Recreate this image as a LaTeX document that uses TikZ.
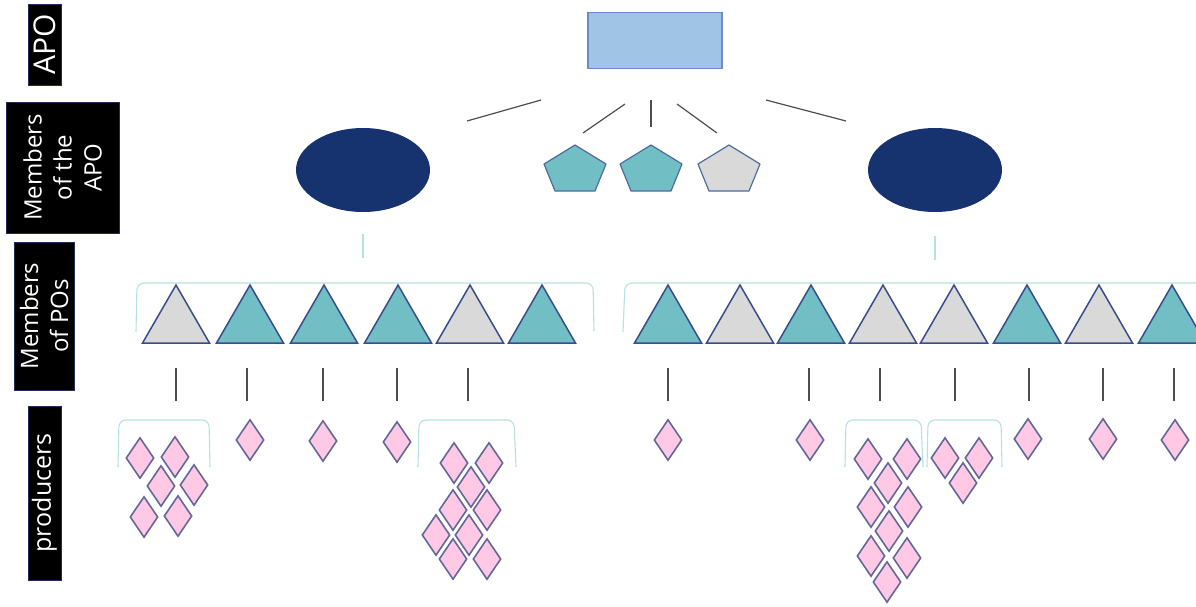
\documentclass[tikz,border=0pt]{standalone}
\usepackage{fontspec}
\setmainfont{Open Sans}
\usetikzlibrary{shapes.geometric}
\definecolor{navy}{HTML}{17336F}
\definecolor{teal}{HTML}{71BEC4}
\definecolor{lgray}{HTML}{D9D9D9}
\definecolor{triborder}{HTML}{3A4C8C}
\definecolor{pentborder}{HTML}{4F6B9E}
\definecolor{pinkfill}{HTML}{FFC9E6}
\definecolor{diaborder}{HTML}{626897}
\definecolor{brkcol}{HTML}{B8E0E3}
\definecolor{linegray}{HTML}{4D4D4D}
\definecolor{rectfill}{HTML}{A0C4E6}
\definecolor{rectborder}{HTML}{6A8CC0}
\definecolor{labborder}{HTML}{1F2F5A}
\begin{document}
\begin{tikzpicture}[x=1pt,y=-1pt,
  lab/.style={fill=black, draw=labborder, line width=0.8pt, text=white, rotate=90, inner sep=0pt, align=center, font=\fontsize{24}{30}\selectfont},
  tri/.style={regular polygon, regular polygon sides=3, minimum size=77.4pt, inner sep=0pt, draw=triborder, line width=1.5pt},
  pentst/.style={draw=pentborder, line width=1.2pt, line join=round},
  dia/.style={diamond, minimum width=28pt, minimum height=41pt, inner sep=0pt, fill=pinkfill, draw=diaborder, line width=1.6pt},
  link/.style={draw=linegray, line width=1.2pt},
  brk/.style={draw=brkcol, line width=1.1pt, rounded corners=7pt},
  tick/.style={draw=brkcol, line width=1.5pt}]
\useasboundingbox (0,0) rectangle (1196,606);
\clip (0,0) rectangle (1196,606);

% row labels
\node[lab, minimum width=81pt, minimum height=33pt, font=\fontsize{30}{34}\selectfont] (lapo) at (44.5,44.5) {APO};
\node[lab, minimum width=131pt, minimum height=113pt] (lmem) at (62.5,167.5) {Members\\of the\\APO};
\node[lab, minimum width=148pt, minimum height=60pt] (lpo) at (44,316) {Members\\of POs};
\node[lab, minimum width=174pt, minimum height=33pt, font=\fontsize{25}{30}\selectfont] (lprod) at (44.5,493) {producers};

% APO
\node[rectangle, fill=rectfill, draw=rectborder, line width=1.1pt, minimum width=134pt, minimum height=56pt, inner sep=0pt] (apo) at (655,40.5) {};

% connectors below APO
\coordinate (c1a) at (541,100); \coordinate (c1b) at (467,121);
\coordinate (c2a) at (625,104); \coordinate (c2b) at (583,133);
\coordinate (c3a) at (651,100); \coordinate (c3b) at (651,127);
\coordinate (c4a) at (677,104); \coordinate (c4b) at (717,133);
\coordinate (c5a) at (766,100); \coordinate (c5b) at (846,121);
\draw[link] (c1a) -- (c1b);
\draw[link] (c2a) -- (c2b);
\draw[link] (c3a) -- (c3b);
\draw[link] (c4a) -- (c4b);
\draw[link] (c5a) -- (c5b);

% members of the APO
\node[ellipse, fill=navy, minimum width=134pt, minimum height=84pt, inner sep=0pt] (e1) at (363,170) {};
\node[ellipse, fill=navy, minimum width=134pt, minimum height=84pt, inner sep=0pt] (e2) at (935,170) {};
\foreach \n/\cx/\col in {p1/575/teal, p2/651/teal, p3/729/lgray}{
  \coordinate (\n) at (\cx,168);
  \filldraw[pentst, fill=\col] (\cx,145) -- (\cx+31,164) -- (\cx+20,191) -- (\cx-20,191) -- (\cx-31,164) -- cycle;
}

% ticks below ellipses
\coordinate (e1t) at (363,234); \coordinate (e1b) at (363,258);
\coordinate (e2t) at (935,236); \coordinate (e2b) at (935,260);
\draw[tick] (e1t) -- (e1b);
\draw[tick] (e2t) -- (e2b);

% brackets over triangles
\draw[brk] (136,332) -- (137,283) -- (593,283) -- (594,331);
\draw[brk] (623,332) -- (625,283) -- (1210,283);

% members of POs (triangles)
\foreach \x/\col [count=\i] in {176/lgray,250/teal,324/teal,398/teal,470/lgray,542/teal,
   668/teal,740/lgray,811/teal,883/lgray,954/lgray,1027/teal,1099/lgray,1172/teal}{
  \node[tri, fill=\col] (t\i) at (\x,323.7) {};
}

% ticks under triangles
\foreach \x [count=\i] in {176,247,323,397,468,668,809,880,955,1029,1103,1174}{
  \coordinate (ka\i) at (\x,368);
  \coordinate (kb\i) at (\x,401);
  \draw[link] (ka\i) -- (kb\i);
}

% brackets over producer groups
\draw[brk] (118,467) -- (119,420) -- (209,420) -- (210,467);
\draw[brk] (418,467) -- (419,420) -- (514,420) -- (516,467);
\draw[brk] (845,467) -- (846,420) -- (921,420) -- (923,467);
\draw[brk] (927,467) -- (928,420) -- (1001,420) -- (1002,467);

% producers
\foreach \x/\y [count=\i] in {140/458,175/457,161/486,194/485,144/517,178/516}{
  \node[dia] (da\i) at (\x,\y) {};
}
\node[dia] (s1) at (250,440) {};
\node[dia] (s2) at (323,441) {};
\node[dia] (s3) at (397,442) {};
\foreach \x/\y [count=\i] in {454/463,489/463,471/487,453/510,487/510,436/535,469/535,453/559,487/559}{
  \node[dia] (db\i) at (\x,\y) {};
}
\node[dia] (s4) at (668,440) {};
\node[dia] (s5) at (810,440) {};
\foreach \x/\y [count=\i] in {868/459,907/459,888/483,871/507,908/507,889/531,871/556,907/558,887/582}{
  \node[dia] (dc\i) at (\x,\y) {};
}
\foreach \x/\y [count=\i] in {945/458,979/458,963/483}{
  \node[dia] (dd\i) at (\x,\y) {};
}
\node[dia] (s6) at (1028,439) {};
\node[dia] (s7) at (1103,439) {};
\node[dia] (s8) at (1175,440) {};
\end{tikzpicture}
\end{document}
